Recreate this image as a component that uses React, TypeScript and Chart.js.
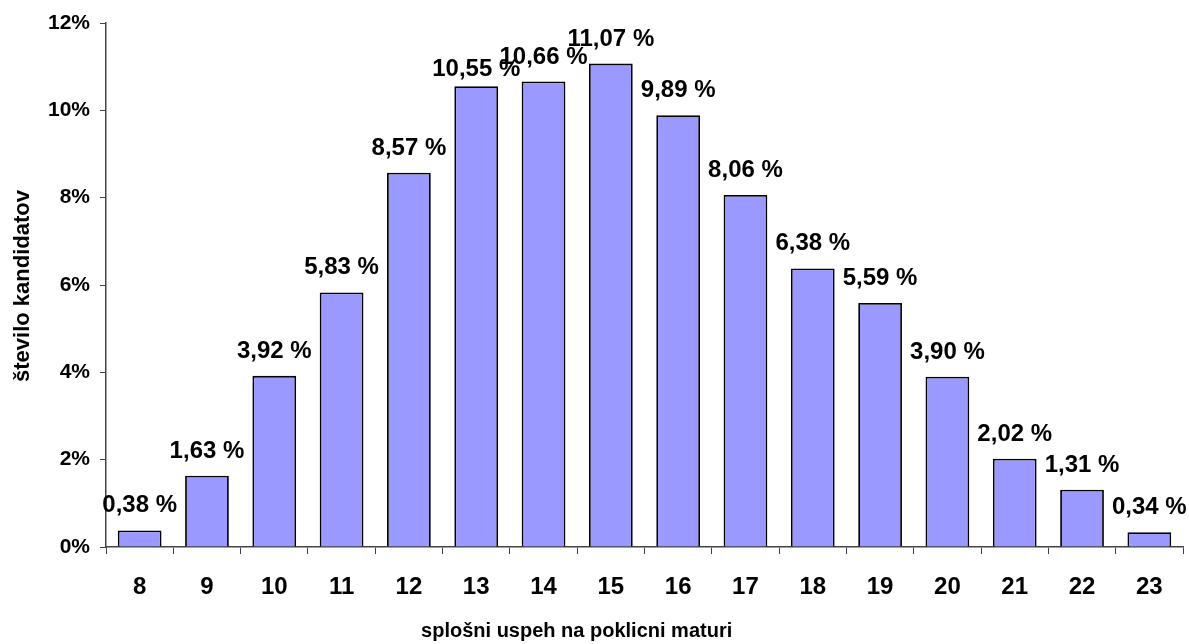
import React, { useEffect, useRef } from "react";
import { Chart, registerables } from "chart.js";

Chart.register(...registerables);

const categories = ["8", "9", "10", "11", "12", "13", "14", "15", "16", "17", "18", "19", "20", "21", "22", "23"];
const values = [0.38, 1.63, 3.92, 5.83, 8.57, 10.55, 10.66, 11.07, 9.89, 8.06, 6.38, 5.59, 3.9, 2.02, 1.31, 0.34];
const yTicks = [0, 2, 4, 6, 8, 10, 12];
const xTitle = "splošni uspeh na poklicni maturi";
const yTitle = "število kandidatov";

const FONT = "Arial, 'Liberation Sans', sans-serif";
const LABEL_GAP = 18;
const LABEL_GAP_NUDGED = 10; // the "10,55 %" label sits lower in the original
const NUDGED_INDEX = 5;

const labelPlugin = {
  id: "barLabels",
  afterDatasetsDraw(chart: any) {
    const ctx = chart.ctx;
    const meta = chart.getDatasetMeta(0);
    ctx.save();
    ctx.font = `bold 24px ${FONT}`;
    ctx.fillStyle = "#000";
    ctx.textAlign = "center";
    ctx.textBaseline = "alphabetic";
    meta.data.forEach((bar: any, i: number) => {
      const txt = values[i].toFixed(2).replace(".", ",") + " %";
      const gap = i === NUDGED_INDEX ? LABEL_GAP_NUDGED : LABEL_GAP;
      ctx.fillText(txt, bar.x, bar.y - gap);
    });
    ctx.restore();
  },
  afterDraw(chart: any) {
    const ctx = chart.ctx;
    const area = chart.chartArea;
    ctx.save();
    ctx.fillStyle = "#000";
    // x axis title
    ctx.font = `bold 20px ${FONT}`;
    ctx.textAlign = "center";
    ctx.textBaseline = "alphabetic";
    ctx.fillText(xTitle, area.left + (area.right - area.left) * 0.437, 637);
    // y axis title
    ctx.font = `bold 22px ${FONT}`;
    ctx.translate(29, (area.top + area.bottom) / 2 + 1);
    ctx.rotate(-Math.PI / 2);
    ctx.textAlign = "center";
    ctx.textBaseline = "alphabetic";
    ctx.fillText(yTitle, 0, 0);
    ctx.restore();
  },
};

export default function App() {
  const ref = useRef<HTMLCanvasElement>(null);
  useEffect(() => {
    document.body.style.margin = "0";
    const chart = new Chart(ref.current!, {
      type: "bar",
      data: {
        labels: categories,
        datasets: [
          {
            data: values,
            backgroundColor: "#9999FF",
            borderColor: "#000000",
            borderWidth: 1.8,
            barPercentage: 0.65,
            categoryPercentage: 1,
          },
        ],
      },
      options: {
        animation: false,
        responsive: false,
        maintainAspectRatio: false,
        layout: { padding: { left: 0, right: 6, top: 23, bottom: 0 } },
        plugins: { legend: { display: false }, tooltip: { enabled: false } },
        scales: {
          x: {
            offset: true,
            grid: {
              offset: true,
              drawOnChartArea: false,
              drawTicks: true,
              tickLength: 7,
              color: "#444",
            },
            border: { display: true, color: "#444", width: 1.5 },
            ticks: {
              color: "#000",
              font: { family: FONT, size: 24, weight: "bold" },
              padding: 19,
            },
            afterFit(s: any) {
              s.height = 97;
            },
          },
          y: {
            min: 0,
            max: 12,
            afterBuildTicks(s: any) {
              s.ticks = yTicks.map((v) => ({ value: v }));
            },
            grid: {
              drawOnChartArea: false,
              drawTicks: true,
              tickLength: 6,
              color: "#444",
            },
            border: { display: true, color: "#444", width: 1.5 },
            ticks: {
              color: "#000",
              font: { family: FONT, size: 21, weight: "bold" },
              padding: 10,
              callback: (v: any) => v + "%",
            },
            afterFit(s: any) {
              s.width = 106;
            },
          },
        },
      },
      plugins: [labelPlugin],
    });
    return () => chart.destroy();
  }, []);
  return (
    <div style={{ position: "absolute", left: 0, top: 0, width: 1189, height: 644 }}>
      <canvas ref={ref} width={1189} height={644} style={{ width: 1189, height: 644 }} />
    </div>
  );
}
